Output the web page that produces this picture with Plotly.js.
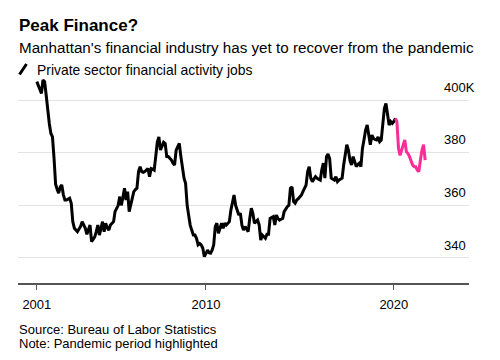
<!DOCTYPE html>
<html>
<head>
<meta charset="utf-8">
<script src="https://cdn.plot.ly/plotly-3.0.1.min.js"></script>
<style>html,body{margin:0;padding:0;background:#fff;}#chart{width:500px;height:360px;}</style>
</head>
<body>
<div id="chart"></div>
<script>
// Monthly private sector financial activity jobs in Manhattan (thousands), Jan 2001 onward
const startMonth = "2001-01";
const jobs = [
  407, 405.5, 404, 402.5, 407.6, 407, 402, 395.6, 391, 387.3, 386, 378,          // 2001
  368, 366, 364.6, 367, 367.7, 364, 362, 362, 362.5, 362.7, 360.8, 353.8,        // 2002
  351.3, 350.5, 350, 351, 352, 353.8, 352.5, 351.3, 349, 350.5, 352.5, 346.2,    // 2003
  347, 348, 350, 352.5, 348.7, 351, 353.8, 350, 353.2, 351.5, 350.6, 352.5,      // 2004
  353, 353.8, 357.6, 359, 360, 363.3, 360, 363, 366.5, 362, 365.2, 357.6,        // 2005
  360, 362.7, 365.2, 366, 366.5, 372.8, 374.7, 372.8, 372.5, 372.8, 373.5, 374,  // 2006
  370.9, 374, 373.8, 373.4, 378.5, 384, 386, 381, 382.5, 384, 383.5, 378.5,      // 2007
  378.5, 378, 377.2, 376, 375.3, 381, 382.5, 383.5, 378.5, 373.4, 370.3, 368.4,  // 2008
  360, 356, 352.5, 350.5, 348.7, 348.7, 347.5, 345, 345.5, 345, 343.7, 340.5,    // 2009
  341.8, 343, 342, 341.8, 343, 345, 351.9, 353.2, 349.4, 351, 353.2, 351.3,      // 2010
  353.2, 352.5, 353, 353.8, 358.2, 360.8, 363.9, 360, 357.6, 356.3, 357, 352.5,  // 2011
  350.6, 351.9, 351, 350, 355, 358.9, 357, 353.2, 353.8, 354.4, 352.5, 346.8,    // 2012
  348.7, 348, 347.5, 349, 349, 355, 355.5, 355.7, 352.5, 356.3, 355, 354.4,      // 2013
  354.7, 355, 357.6, 358.9, 359.5, 360, 366.5, 367, 361.4, 360.8, 362, 362.5,    // 2014
  363.3, 363.9, 365.2, 366.5, 367.7, 372.8, 374.7, 370.3, 369, 370, 370.9, 370.3,// 2015
  370, 369.6, 373.4, 376, 370.3, 378.5, 379.5, 377.8, 370.3, 370, 369.6, 370.9,  // 2016
  369, 369.6, 370, 370.3, 375.3, 379, 383, 381, 377, 375.3, 378.5, 376.6,        // 2017
  374.7, 375.5, 376, 374.7, 381.6, 385, 388.6, 390.5, 386, 383, 386.7, 385.4,    // 2018
  385, 384.8, 386, 384.2, 384.8, 391.1, 396.8, 398.7, 394.3, 390.5, 391.8, 391.1,// 2019
  391.8, 393, 391.8, 381.6, 379, 381, 383, 384.8, 380.4, 379.7, 378.5, 377.2,    // 2020
  375.3, 374.7, 374.7, 373.4, 372.8, 377.2, 381, 383, 377.2                      // 2021
];
const pandemicStart = "2020-02";
const titleText = "Peak Finance?";
const subtitleText = "Manhattan's financial industry has yet to recover from the pandemic";
const seriesName = "Private sector financial activity jobs";
const sourceText = "Source: Bureau of Labor Statistics";
const noteText = "Note: Pandemic period highlighted";
const yTickVals = [340, 360, 380, 400];
const yTickText = ["340", "360", "380", "400K"];
const xTickVals = ["2001-01-01", "2010-01-01", "2020-01-01"];
const xTickText = ["2001", "2010", "2020"];

// month labels
const months = [];
{
  let y = +startMonth.slice(0, 4), m = +startMonth.slice(5, 7);
  for (let i = 0; i < jobs.length; i++) {
    months.push(y + "-" + String(m).padStart(2, "0") + "-01");
    m++; if (m > 12) { m = 1; y++; }
  }
}
const split = months.indexOf(pandemicStart + "-01");

const FONT = "Liberation Sans, Arial, Helvetica, sans-serif";
const PINK = "#fb2c98";

const traces = [
  {x: months.slice(0, split + 1), y: jobs.slice(0, split + 1), type: "scatter", mode: "lines",
   line: {color: "#000", width: 3, shape: "linear"}, hoverinfo: "skip", showlegend: false},
  {x: months.slice(split), y: jobs.slice(split), type: "scatter", mode: "lines",
   line: {color: PINK, width: 3}, hoverinfo: "skip", showlegend: false}
];

const W = 500, H = 360, L = 18, R = 31, T = 75, B = 77;
const pw = W - L - R, ph = H - T - B;
const px = v => (v - L) / pw;
const py = v => (H - B - v) / ph;

const layout = {
  width: W, height: H,
  margin: {l: L, r: R, t: T, b: B, pad: 0},
  paper_bgcolor: "#fff", plot_bgcolor: "#fff",
  font: {family: FONT, color: "#000", size: 13},
  xaxis: {type: "date", range: ["2000-01-01", "2024-01-01"], tickvals: xTickVals, ticktext: xTickText,
          ticks: "outside", ticklen: 5, tickwidth: 1, tickcolor: "#555",
          showline: true, linecolor: "#555", linewidth: 1.5, showgrid: false, zeroline: false,
          tickfont: {family: FONT, size: 13, color: "#000"}, ticklabelstandoff: 4, fixedrange: true},
  yaxis: {range: [330.5, 409.5], side: "right", tickvals: yTickVals, ticktext: yTickText,
          ticks: "", showline: false, showgrid: true, gridcolor: "#e3e3e3", gridwidth: 1, zeroline: false,
          ticklabelposition: "outside", ticklabelstandoff: -26, ticklabelshift: -13,
          tickfont: {family: FONT, size: 13, color: "#000"}, fixedrange: true},
  shapes: [
    {type: "line", xref: "paper", yref: "paper", x0: px(19.5), y0: py(74.5), x1: px(26.5), y1: py(64),
     line: {color: "#000", width: 3}}
  ],
  annotations: [
    {text: "<b>" + titleText + "</b>", xref: "paper", yref: "paper",
     x: px(17), y: py(25.5), xanchor: "left", yanchor: "middle", showarrow: false,
     font: {family: FONT, size: 17, color: "#000"}},
    {text: subtitleText, xref: "paper", yref: "paper",
     x: px(17), y: py(47), xanchor: "left", yanchor: "middle", showarrow: false,
     font: {family: FONT, size: 15.2, color: "#000"}},
    {text: seriesName, xref: "paper", yref: "paper",
     x: px(35), y: py(69.5), xanchor: "left", yanchor: "middle", showarrow: false,
     font: {family: FONT, size: 13.9, color: "#000"}},
    {text: sourceText, xref: "paper", yref: "paper",
     x: px(17), y: py(329), xanchor: "left", yanchor: "middle", showarrow: false,
     font: {family: FONT, size: 13, color: "#000"}},
    {text: noteText, xref: "paper", yref: "paper",
     x: px(17), y: py(343), xanchor: "left", yanchor: "middle", showarrow: false,
     font: {family: FONT, size: 13, color: "#000"}}
  ]
};

Plotly.newPlot("chart", traces, layout, {displayModeBar: false, staticPlot: true});
</script>
</body>
</html>
